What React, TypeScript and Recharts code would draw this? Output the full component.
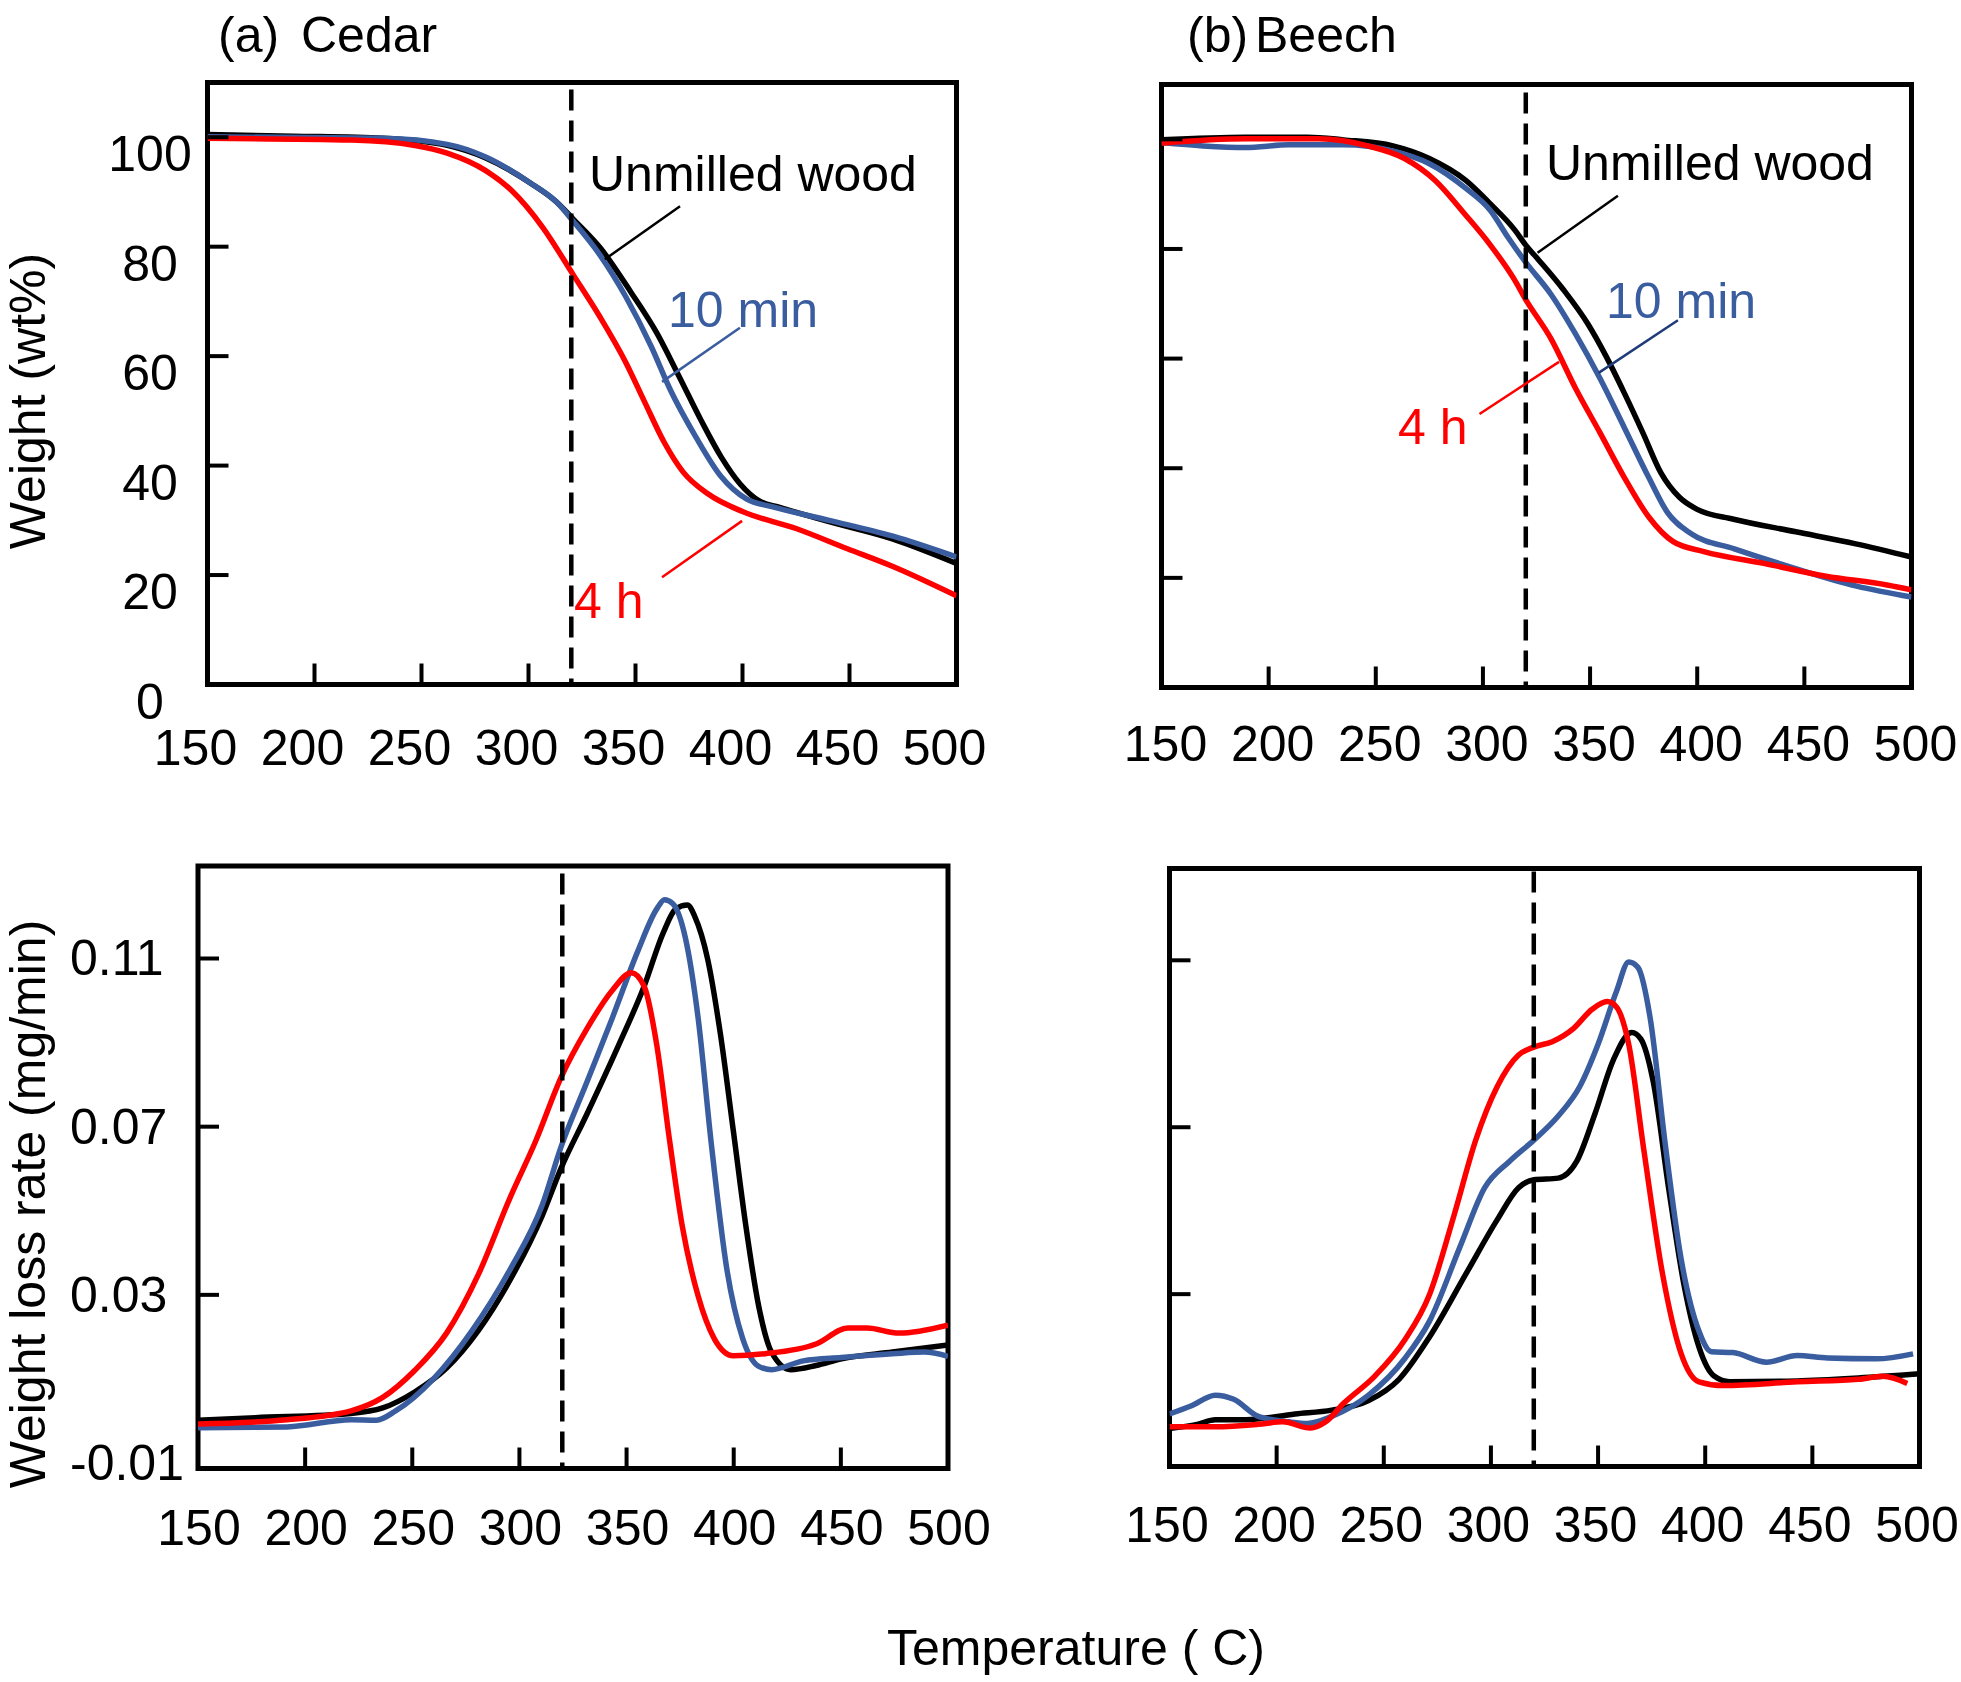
import React from 'react';
import { LineChart, Line, XAxis, YAxis, ReferenceLine, ReferenceArea } from 'recharts';

type Pt = { t: number; v: number };
const P = (arr: number[][]): Pt[] => arr.map(([t, v]) => ({ t, v }));

// ---- tick values / labels ----
const tempTicks = [150, 200, 250, 300, 350, 400, 450, 500];
const weightTicks = [0, 20, 40, 60, 80, 100];
const rateTicks = [-0.01, 0.03, 0.07, 0.11];
const rateTickLabels = ['-0.01', '0.03', '0.07', '0.11'];
const markerTemp = 320;

// ---- (a) Cedar, weight (wt%) ----
const cedarWUnmilled = P([[150,100.5],[190,100.2],[232,99.8],[262,98.5],[280,96.2],[301,91.6],[313,88.2],[321,85.0],[333.5,79.8],[348,71.6],[360,64.2],[370.5,56.2],[381,48.0],[390,41.6],[399,36.6],[408,33.5],[417,32.4],[440,29.8],[470,26.6],[500,22.1]]);
const cedarW10min = P([[150,100.1],[232,99.8],[262,98.7],[280,96.4],[301,91.6],[313,88.2],[321,84.6],[333.5,78.4],[345.4,70.9],[357.3,61.8],[366.2,53.9],[378.1,45.3],[390,38.0],[401.8,33.9],[413.7,32.5],[440.5,30.0],[470.3,27.1],[500,23.3]]);
const cedarW4h = P([[150,99.8],[217.5,99.5],[247,98.5],[262,97.1],[280,93.9],[292,90.3],[306.7,83.5],[321,74.8],[333.5,67.1],[345.4,58.9],[354.3,51.6],[363.2,44.4],[372.1,38.9],[384,34.8],[400,31.6],[425,28.5],[449,24.8],[470,21.6],[500,16.2]]);

// ---- (b) Beech, weight (wt%) ----
const beechWUnmilled = P([[150,99.9],[189,100.4],[218,100.4],[235,99.9],[258,98.8],[275,96.5],[292,92.5],[303,88.4],[315,83.4],[320,80.7],[326,78.0],[337.5,72.6],[349,66.3],[357.5,60.4],[366,53.7],[374.6,46.5],[383,39.2],[391.7,34.7],[400,32.5],[417,30.7],[446,28.4],[474,26.2],[500,23.8]]);
const beechW10min = P([[150,99.4],[169.4,98.8],[189.3,98.5],[209.3,99.0],[234.9,99.0],[257.7,97.9],[274.8,95.6],[291.9,91.1],[303.3,87.1],[311.9,82.0],[319.9,77.6],[331.8,71.7],[343.2,64.5],[354.6,56.4],[366,47.4],[377.4,38.3],[386,32.0],[397.4,28.0],[417.3,25.3],[445.9,21.7],[474.4,18.5],[500,16.5]]);
const beechW4h = P([[150,99.3],[189.3,100.1],[223.5,100.1],[246.3,98.8],[263.4,96.5],[277.7,92.5],[291.9,86.2],[303.3,80.8],[314.7,74.4],[319.9,70.8],[331.8,63.6],[343.2,54.6],[354.6,46.5],[366,38.3],[377.4,31.1],[388.8,26.6],[403.1,24.8],[431.6,22.6],[460.1,20.3],[488.6,18.7],[500,17.8]]);

// ---- (a) Cedar, weight loss rate (mg/min) ----
const cedarRUnmilled = P([[150,0.0002],[176.8,0.0008],[221.4,0.0018],[236.2,0.0031],[251.1,0.0069],[266,0.0126],[280.8,0.0215],[295.7,0.0336],[310.6,0.0488],[319.5,0.0602],[331.4,0.0729],[346.3,0.0894],[358.2,0.1034],[367.1,0.1161],[373,0.1218],[378.4,0.1227],[381.9,0.1199],[387.9,0.1097],[393.8,0.092],[399.8,0.0691],[405.7,0.0463],[411.7,0.0272],[417.6,0.0164],[426.6,0.0122],[438.4,0.0132],[450.3,0.0148],[474.1,0.0164],[500,0.0181]]);
const cedarR10min = P([[150,-0.0016],[191.6,-0.0014],[221.4,0.0003],[233.3,0.0002],[242.2,0.0024],[260,0.0101],[277.9,0.0215],[295.7,0.0361],[310.6,0.0513],[319.5,0.0653],[331.4,0.0805],[343.3,0.0958],[355.2,0.1117],[364.1,0.1218],[367.7,0.124],[371.5,0.1231],[377.5,0.1148],[383.4,0.0958],[389.4,0.0666],[396.8,0.0361],[404.2,0.0196],[411.7,0.013],[417.6,0.0122],[432.5,0.0143],[450.3,0.0151],[474.1,0.016],[489,0.0164],[500,0.0154]]);
const cedarR4h = P([[150,-0.0007],[191.6,0.0003],[221.4,0.0024],[236.2,0.0056],[251.1,0.012],[266,0.0209],[280.8,0.0348],[295.7,0.0532],[307.6,0.0666],[319.5,0.0818],[331.4,0.0932],[343.3,0.1024],[352.2,0.1066],[358.2,0.1034],[364.1,0.0894],[370.1,0.0666],[376,0.0463],[383.4,0.0297],[390.9,0.0196],[399.8,0.0155],[414.7,0.016],[438.4,0.0183],[453.3,0.0221],[462.2,0.0221],[477.1,0.0209],[500,0.0228]]);

// ---- (b) Beech, weight loss rate (mg/min) ----
const beechRUnmilled = P([[150,-0.0022],[162.9,-0.0012],[171.4,-0.0001],[185.7,-0.0001],[208.6,0.0013],[225.7,0.0022],[242.9,0.0045],[257.1,0.0096],[271.4,0.0198],[288.6,0.0351],[302.9,0.0478],[312.9,0.0555],[320,0.0574],[331.4,0.0578],[340,0.0618],[348.6,0.0733],[357.1,0.0861],[365.7,0.0927],[370,0.0911],[375.7,0.081],[382.9,0.0555],[390,0.0325],[397.1,0.0173],[404.3,0.0103],[411.4,0.009],[442.9,0.0092],[471.4,0.0099],[500,0.0109]]);
const beechR10min = P([[150,0.0013],[160,0.0032],[171.4,0.0058],[180,0.0048],[191.4,0.0007],[205.7,-0.0006],[214.3,-0.001],[225.7,0.0007],[242.9,0.0058],[260,0.0147],[271.4,0.0236],[285.7,0.0415],[297.1,0.0555],[308.6,0.0618],[320,0.0669],[331.4,0.0727],[341.4,0.0797],[350,0.0899],[358.6,0.1026],[364.3,0.1096],[368.6,0.1083],[374.3,0.0962],[381.4,0.0657],[388.6,0.0389],[397.1,0.0211],[402.9,0.0162],[412.9,0.016],[428.6,0.0137],[442.9,0.0153],[457.1,0.0147],[480,0.0145],[497,0.0157]]);
const beechR4h = P([[150,-0.0018],[171.4,-0.0018],[191.4,-0.0012],[202.9,-0.0006],[215.7,-0.0021],[222.9,-0.0006],[231.4,0.0039],[245.7,0.0103],[260,0.0192],[271.4,0.03],[282.9,0.0491],[292.9,0.0669],[302.9,0.0797],[312.9,0.0873],[320,0.0892],[328.6,0.0905],[338.6,0.0937],[347.1,0.0982],[354.3,0.1001],[358.6,0.0988],[364.3,0.0899],[371.4,0.0644],[380,0.0351],[388.6,0.016],[397.1,0.009],[408.6,0.0081],[442.9,0.009],[471.4,0.0096],[482.9,0.0103],[494.3,0.0086]]);

const BLACK = '#000000';
const BLUE = '#3A5DA0';
const RED = '#FF0000';
const FONT_FAMILY = '"Liberation Sans", Arial, Helvetica, sans-serif';
const FS = 50;
const TICK_LEN = 21;

type Seg = { pts: [{ x: number; y: number }, { x: number; y: number }]; color: string };

interface PanelProps {
  box: { left: number; top: number; width: number; height: number };
  margin: { left: number; top: number; right: number; bottom: number };
  yDomain: [number, number];
  yTicks: number[];
  yLabel: 'center' | 'start' | 'none';
  yLabelDx: number;
  yLabelDy: number;
  yLabelText?: (v: number) => string;
  xLabelDx: number;
  xLabelDy: number;
  series: { data: Pt[]; color: string; name: string }[];
  leaders?: Seg[];
}

function Panel(props: PanelProps) {
  const { box, margin, yDomain, yTicks, series, leaders } = props;
  // axes get a 1px band; the plot area is inside margin + that band
  const m = { left: margin.left - 1, top: margin.top, right: margin.right, bottom: margin.bottom - 1 };
  const xTick = (p: any) => {
    const { x, y, payload } = p;
    const v = payload.value;
    const edge = v === 150 || v === 500;
    return (
      <g>
        {!edge && <line x1={x} x2={x} y1={y} y2={y - TICK_LEN} stroke="#000" strokeWidth={4} />}
        <text x={x + props.xLabelDx} y={y + props.xLabelDy} textAnchor="middle" dominantBaseline="central"
          fontFamily={FONT_FAMILY} fontSize={FS} fill="#000">{v}</text>
      </g>
    );
  };
  const yTick = (p: any) => {
    const { x, y, payload } = p;
    const v = payload.value;
    const edge = v === yTicks[0];
    const txt = props.yLabelText ? props.yLabelText(v) : String(v);
    return (
      <g>
        {!edge && <line x1={x} x2={x + TICK_LEN} y1={y} y2={y} stroke="#000" strokeWidth={4} />}
        {props.yLabel !== 'none' && (
          <text x={x + props.yLabelDx} y={y + props.yLabelDy}
            textAnchor={props.yLabel === 'center' ? 'middle' : 'start'} dominantBaseline="central"
            fontFamily={FONT_FAMILY} fontSize={FS} fill="#000">{txt}</text>
        )}
      </g>
    );
  };
  return (
    <div style={{ position: 'absolute', left: box.left, top: box.top, width: box.width, height: box.height }}>
      <LineChart width={box.width} height={box.height} margin={m}>
        <XAxis type="number" dataKey="t" domain={[150, 500]} ticks={tempTicks} allowDataOverflow
          axisLine={false} tickLine={false} tickSize={0} tickMargin={0} height={1} interval={0} tick={xTick} />
        <YAxis type="number" domain={yDomain} ticks={yTicks} allowDataOverflow
          axisLine={false} tickLine={false} tickSize={0} tickMargin={0} width={1} interval={0} tick={yTick} />
        {series.map((s) => (
          <Line key={s.name} data={s.data} dataKey="v" type="monotone" stroke={s.color} strokeWidth={5.5}
            dot={false} activeDot={false} isAnimationActive={false} />
        ))}
        <ReferenceLine x={markerTemp} stroke="#000" strokeWidth={4.5} strokeDasharray="21 10" strokeDashoffset={-16} />
        {(leaders || []).map((l, i) => (
          <ReferenceLine key={i} segment={l.pts} stroke={l.color} strokeWidth={2.5} ifOverflow="visible" />
        ))}
        <ReferenceArea x1={150} x2={500} y1={yDomain[0]} y2={yDomain[1]} fill="none" fillOpacity={0}
          stroke="#000" strokeWidth={5} ifOverflow="visible" />
      </LineChart>
    </div>
  );
}

const T = (x: number, y: number, s: string, color = '#000', extra: any = {}) => (
  <text x={x} y={y} fontFamily={FONT_FAMILY} fontSize={FS} fill={color} {...extra}>{s}</text>
);

export default function App() {
  const rateDomain: [number, number] = [-0.0113, 0.132];
  const rateLabel = (v: number) => rateTickLabels[rateTicks.indexOf(v)] ?? String(v);
  return (
    <div style={{ position: 'absolute', left: 0, top: 0, width: 1961, height: 1682, background: '#fff', overflow: 'hidden' }}>
      <Panel
        box={{ left: 0, top: 0, width: 1020, height: 800 }}
        margin={{ left: 207.5, top: 82.5, right: 63.5, bottom: 115.5 }}
        yDomain={[0, 110]} yTicks={weightTicks} yLabel="center" yLabelDx={-57.5} yLabelDy={17}
        xLabelDx={-12} xLabelDy={63.5}
        series={[
          { name: 'unmilled', data: cedarWUnmilled, color: BLACK },
          { name: '10min', data: cedarW10min, color: BLUE },
          { name: '4h', data: cedarW4h, color: RED },
        ]}
        leaders={[
          { pts: [{ x: 370.8, y: 87.4 }, { x: 335.7, y: 77.7 }], color: BLACK },
          { pts: [{ x: 398.8, y: 65.2 }, { x: 362.4, y: 55.3 }], color: BLUE },
          { pts: [{ x: 362.4, y: 19.6 }, { x: 399.8, y: 29.9 }], color: RED },
        ]}
      />
      <Panel
        box={{ left: 980, top: 0, width: 981, height: 800 }}
        margin={{ left: 181.5, top: 84.5, right: 49.5, bottom: 112.5 }}
        yDomain={[0, 110]} yTicks={weightTicks} yLabel="none" yLabelDx={0} yLabelDy={0}
        xLabelDx={4} xLabelDy={56.5}
        series={[
          { name: 'unmilled', data: beechWUnmilled, color: BLACK },
          { name: '10min', data: beechW10min, color: BLUE },
          { name: '4h', data: beechW4h, color: RED },
        ]}
        leaders={[
          { pts: [{ x: 363.0, y: 89.7 }, { x: 325.5, y: 79.3 }], color: BLACK },
          { pts: [{ x: 391.0, y: 67.0 }, { x: 354.0, y: 57.4 }], color: '#1F3C78' },
          { pts: [{ x: 298.4, y: 49.9 }, { x: 335.5, y: 59.4 }], color: RED },
        ]}
      />
      <Panel
        box={{ left: 0, top: 800, width: 1020, height: 882 }}
        margin={{ left: 198, top: 66, right: 72, bottom: 213.5 }}
        yDomain={rateDomain} yTicks={rateTicks} yLabel="start" yLabelDx={-128} yLabelDy={0} yLabelText={rateLabel}
        xLabelDx={1} xLabelDy={59.5}
        series={[
          { name: 'unmilled', data: cedarRUnmilled, color: BLACK },
          { name: '10min', data: cedarR10min, color: BLUE },
          { name: '4h', data: cedarR4h, color: RED },
        ]}
      />
      <Panel
        box={{ left: 980, top: 800, width: 981, height: 882 }}
        margin={{ left: 189.5, top: 68.5, right: 41.5, bottom: 215.5 }}
        yDomain={rateDomain} yTicks={rateTicks} yLabel="none" yLabelDx={0} yLabelDy={0}
        xLabelDx={-2.5} xLabelDy={58.5}
        series={[
          { name: 'unmilled', data: beechRUnmilled, color: BLACK },
          { name: '10min', data: beechR10min, color: BLUE },
          { name: '4h', data: beechR4h, color: RED },
        ]}
      />
      <svg width={1961} height={1682} style={{ position: 'absolute', left: 0, top: 0, pointerEvents: 'none' }}>
        {T(218, 52, '(a)')}
        {T(301, 52, 'Cedar')}
        {T(1187, 52, '(b)')}
        {T(1255, 52, 'Beech')}
        {T(589, 191, 'Unmilled wood')}
        {T(668, 327, '10 min', BLUE)}
        {T(574, 618, '4 h', RED)}
        {T(1546, 180, 'Unmilled wood')}
        {T(1606, 318, '10 min', BLUE)}
        {T(1398, 444, '4 h', RED)}
        <text x={28} y={401} fontFamily={FONT_FAMILY} fontSize={FS} textAnchor="middle" dominantBaseline="central"
          transform="rotate(-90 28 401)">Weight (wt%)</text>
        <text x={28} y={1204} fontFamily={FONT_FAMILY} fontSize={FS} textAnchor="middle" dominantBaseline="central"
          transform="rotate(-90 28 1204)">Weight loss rate (mg/min)</text>
        <text x={1076} y={1648} fontFamily={FONT_FAMILY} fontSize={FS} textAnchor="middle" dominantBaseline="central">Temperature ( C)</text>
      </svg>
    </div>
  );
}
